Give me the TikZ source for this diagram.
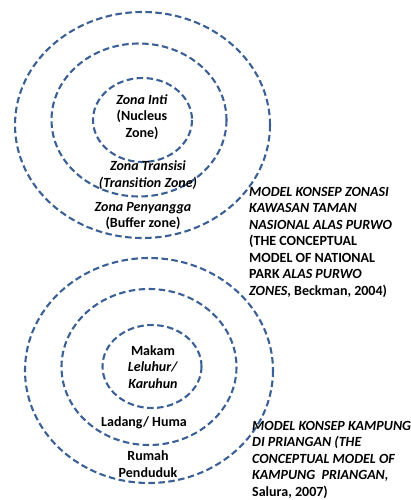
\documentclass[tikz,border=0pt]{standalone}
\usepackage{fontspec}
\setmainfont{Carlito}
\definecolor{ringblue}{HTML}{3A6095}
\begin{document}
\begin{tikzpicture}[x=1pt,y=-1pt,
  ring/.style={draw=ringblue,line width=2.1pt,dash pattern=on 6.5pt off 3.5pt},
  lbl/.style={inner sep=0pt,align=center,font=\fontsize{14}{16.6}\selectfont\bfseries},
  captext/.style={inner sep=0pt,align=left,anchor=north west,font=\fontsize{14}{16.5}\selectfont\bfseries}]
\useasboundingbox (0,0) rectangle (410,500);
% top rings
\draw[ring] (142.5,125) ellipse [x radius=127.5,y radius=113];
\draw[ring] (139,120) ellipse [x radius=87.5,y radius=76.5];
\draw[ring] (142.5,120) ellipse [x radius=49.5,y radius=42];
% bottom rings
\draw[ring] (149,370.5) ellipse [x radius=124,y radius=112.5];
\draw[ring] (149,367) ellipse [x radius=87.5,y radius=78];
\draw[ring] (152,366.5) ellipse [x radius=49.5,y radius=41.5];
% top labels
\node[lbl] (inti) at (142,117) {\textit{Zona Inti}\\(Nucleus\\Zone)};
\node[lbl] (trans) at (148,175) {\textit{Zona Transisi}\\\textit{(Transition Zone)}};
\node[lbl] (buffer) at (143,216) {\textit{Zona Penyangga}\\(Buffer zone)};
\node[captext] (capA) at (249,187) {\textit{MODEL KONSEP ZONASI}\\\textit{KAWASAN TAMAN}\\\textit{NASIONAL ALAS PURWO}\\(THE CONCEPTUAL\\MODEL OF NATIONAL\\PARK \textit{ALAS PURWO}\\\textit{ZONES}, Beckman, 2004)};
% bottom labels
\node[lbl] (makam) at (153,367) {Makam\\\textit{Leluhur/}\\\textit{Karuhun}};
\node[lbl] (ladang) at (144,423) {Ladang/ Huma};
\node[lbl] (rumah) at (148,464) {Rumah\\Penduduk};
\node[captext] (capB) at (252,421) {\textit{MODEL KONSEP KAMPUNG}\\\textit{DI PRIANGAN (THE}\\\textit{CONCEPTUAL MODEL OF}\\\textit{KAMPUNG\ \ PRIANGAN,}\\Salura, 2007)};
\end{tikzpicture}
\end{document}
